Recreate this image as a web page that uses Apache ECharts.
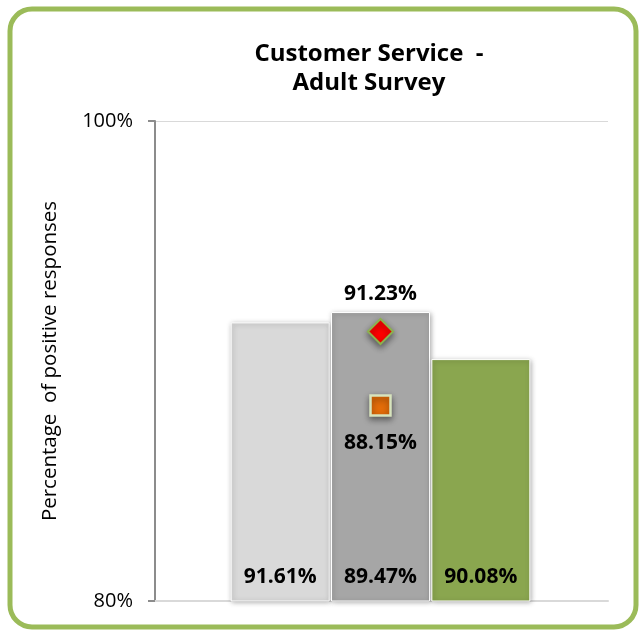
<!DOCTYPE html>
<html>
<head>
<meta charset="utf-8">
<script src="https://cdn.jsdelivr.net/npm/echarts@6/dist/echarts.min.js"></script>
<style>
  html, body { margin: 0; padding: 0; background: #ffffff; }
  #chart { width: 639px; height: 631px; }
</style>
</head>
<body>
<div id="chart"></div>
<script>
// Survey groups and their positive-response percentages
const categories = ['District', 'Region', 'State'];
const barValues = [91.61, 92.04, 90.08];          // bar heights
const scoreLabels = [91.61, 89.47, 90.08];        // scores printed at the foot of each bar
const barColors = ['#D9D9D9', '#A6A6A6', '#8AA64F'];
const diamondPoint = [categories[1], 91.23];      // red diamond marker
const squarePoint = [categories[1], 88.15];       // orange square marker
const yTicks = [80, 100];

const FONT = 'Open Sans';
const chart = echarts.init(document.getElementById('chart'));

const pct = v => v.toFixed(2) + '%';

chart.setOption({
  backgroundColor: '#ffffff',
  animation: false,
  title: {
    text: 'Customer Service  -\nAdult Survey',
    left: 364,
    top: 35,
    textAlign: 'center',
    textStyle: { fontFamily: FONT, fontWeight: 'bold', fontSize: 24, lineHeight: 29, color: '#000' }
  },
  graphic: [{
    type: 'rect',
    shape: { x: 10, y: 9, width: 626, height: 618, r: 22 },
    style: { fill: 'none', stroke: '#9BBB59', lineWidth: 5 },
    silent: true
  }],
  grid: [
    { left: 155, right: 31, top: 121, bottom: 30 },
    { left: 230, right: 108, top: 121, bottom: 30 }
  ],
  xAxis: [
    {
      type: 'category', gridIndex: 0, data: [''],
      axisLine: { show: true, lineStyle: { color: '#D9D9D9', width: 2 } },
      axisTick: { show: false }, axisLabel: { show: false }
    },
    {
      type: 'category', gridIndex: 1, data: categories, show: false
    }
  ],
  yAxis: [
    {
      type: 'value', gridIndex: 0, min: yTicks[0], max: yTicks[1], interval: yTicks[1] - yTicks[0],
      name: 'Percentage  of positive responses',
      nameLocation: 'middle', nameRotate: 90, nameGap: 94,
      nameTextStyle: { fontFamily: FONT, fontSize: 20.5, color: '#000' },
      axisLine: { show: true, lineStyle: { color: '#8C8C8C', width: 2 } },
      axisTick: { show: true, length: 7, lineStyle: { color: '#8C8C8C', width: 2 } },
      axisLabel: { formatter: '{value}%', margin: 22, fontFamily: FONT, fontSize: 20, color: '#000' },
      splitLine: { show: true, lineStyle: { color: '#D9D9D9', width: 1 } }
    },
    {
      type: 'value', gridIndex: 1, min: yTicks[0], max: yTicks[1], show: false
    }
  ],
  series: [
    {
      type: 'bar', xAxisIndex: 1, yAxisIndex: 1, barWidth: 99, z: 2,
      data: barValues.map((v, i) => ({
        value: v,
        itemStyle: {
          color: barColors[i], borderColor: '#ffffff', borderWidth: 1,
          shadowBlur: 5, shadowColor: 'rgba(0,0,0,0.35)', shadowOffsetX: 1, shadowOffsetY: 1
        }
      }))
    },
    {
      type: 'bar', xAxisIndex: 1, yAxisIndex: 1, barWidth: 99, barGap: '-100%', z: 3,
      itemStyle: { color: 'rgba(0,0,0,0)' },
      label: {
        show: true, position: 'insideBottom', distance: 13,
        formatter: p => pct(p.value),
        fontFamily: FONT, fontWeight: 'bold', fontSize: 21, color: '#000'
      },
      data: scoreLabels
    },
    {
      type: 'scatter', xAxisIndex: 1, yAxisIndex: 1, z: 5,
      symbol: 'diamond', symbolSize: 25,
      itemStyle: {
        color: '#FF0000', borderColor: '#8CB14E', borderWidth: 2, opacity: 1,
        shadowBlur: 6, shadowColor: 'rgba(0,0,0,0.45)', shadowOffsetY: 3
      },
      label: {
        show: true, position: 'top', distance: 13,
        formatter: p => pct(p.value[1]),
        fontFamily: FONT, fontWeight: 'bold', fontSize: 21, color: '#000'
      },
      data: [diamondPoint]
    },
    {
      type: 'scatter', xAxisIndex: 1, yAxisIndex: 1, z: 5,
      symbol: 'rect', symbolSize: 20,
      itemStyle: {
        color: '#E36C09', borderColor: '#D7E4BD', borderWidth: 2.5, opacity: 1,
        shadowBlur: 6, shadowColor: 'rgba(0,0,0,0.45)', shadowOffsetY: 3
      },
      label: {
        show: true, position: 'bottom', distance: 16,
        formatter: p => pct(p.value[1]),
        fontFamily: FONT, fontWeight: 'bold', fontSize: 21, color: '#000'
      },
      data: [squarePoint]
    }
  ]
});
</script>
</body>
</html>
